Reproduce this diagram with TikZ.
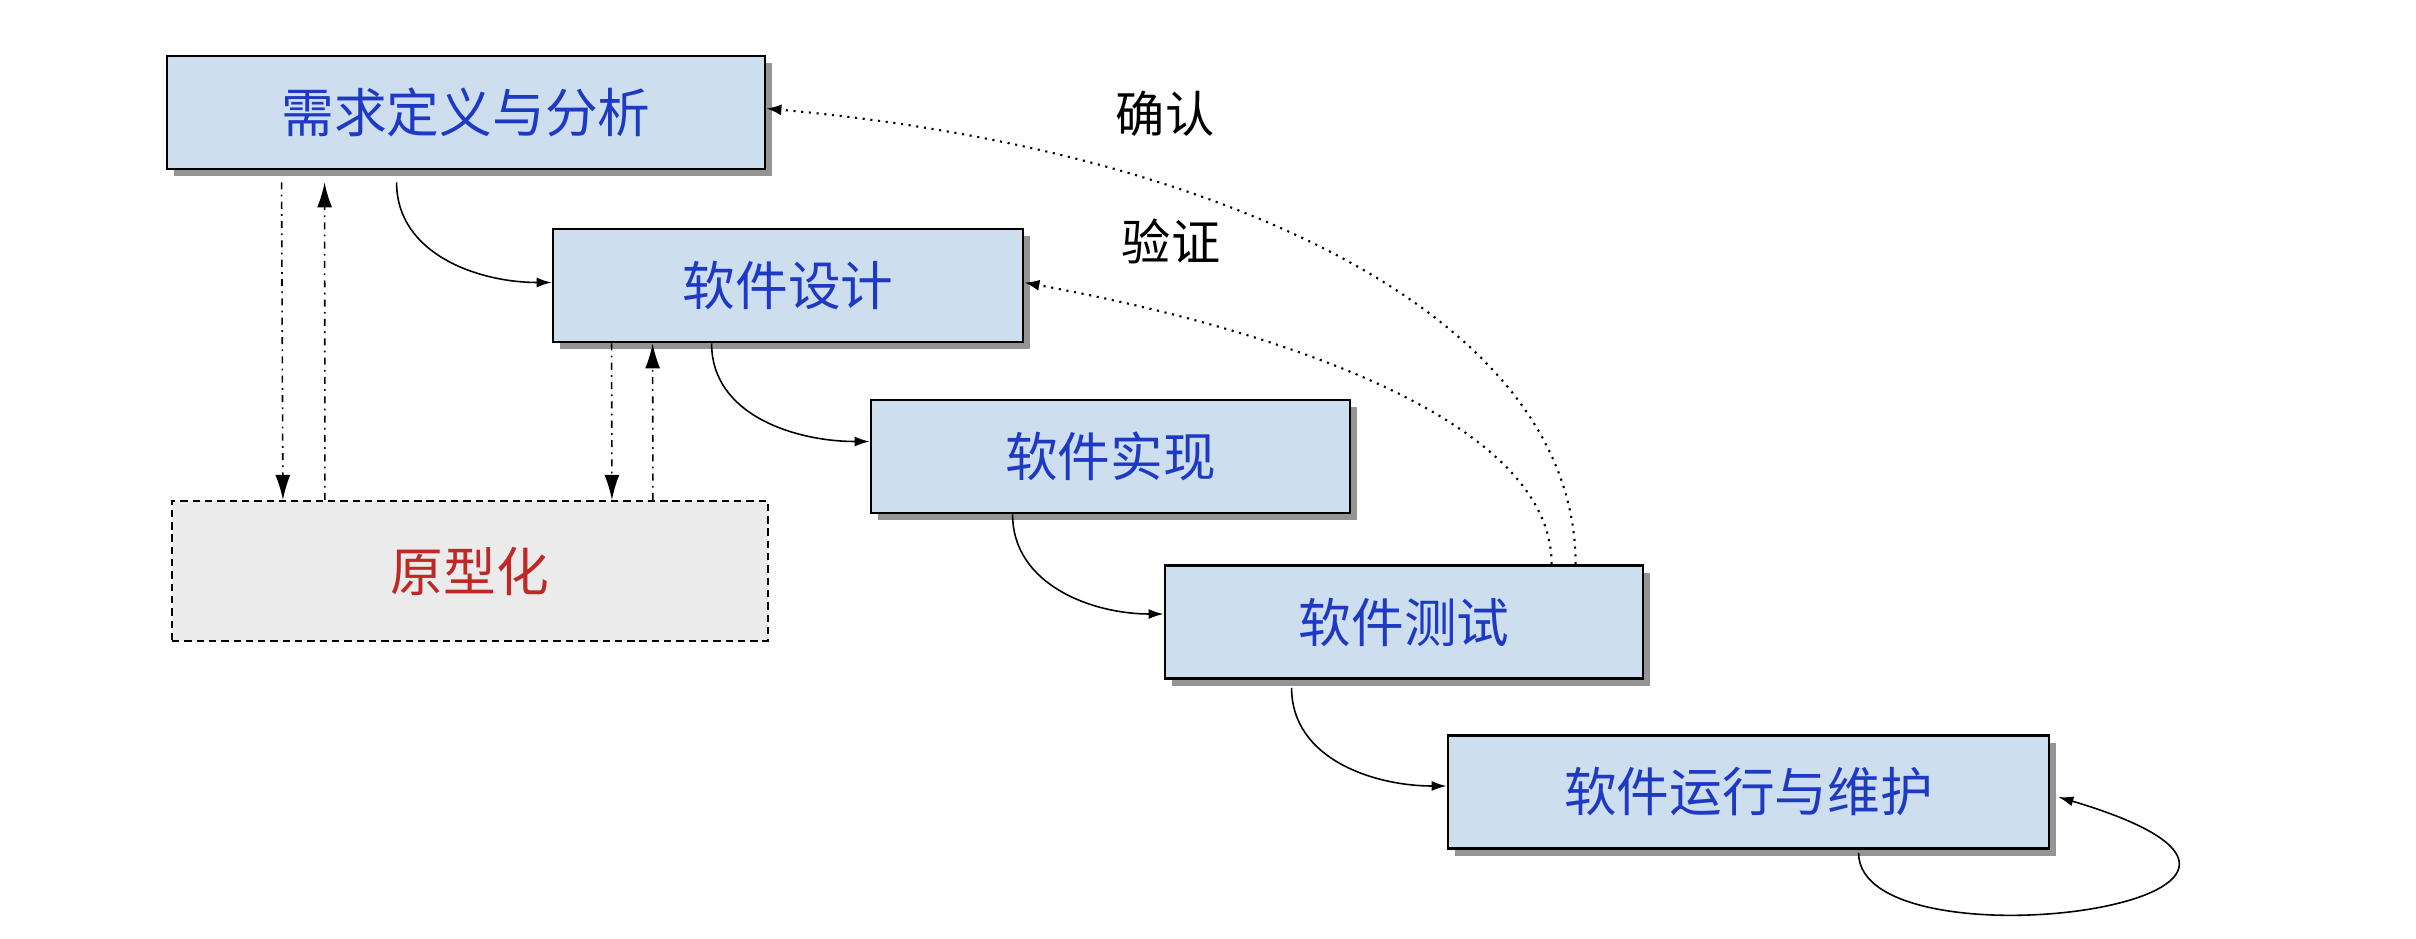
\documentclass[tikz,border=0pt]{standalone}
\usepackage{fontspec}
\newfontfamily\cjk{Noto Sans CJK SC}
\usetikzlibrary{arrows.meta,shadows}

\definecolor{phasefill}{RGB}{205,222,239}
\definecolor{phasetext}{RGB}{30,58,196}
\definecolor{protofill}{RGB}{235,235,235}
\definecolor{prototext}{RGB}{190,40,38}

\tikzset{
  phase/.style={draw=black, line width=0.8pt, fill=phasefill, text=phasetext,
    inner sep=0pt, minimum height=1.13cm, font=\cjk\fontsize{15}{18}\selectfont,
    drop shadow={shadow xshift=0.07cm, shadow yshift=-0.07cm, fill=black!42, opacity=1}},
  proto/.style={draw=black, line width=0.6pt, dash pattern=on 2.1pt off 1.4pt,
    fill=protofill, text=prototext, inner sep=0pt, minimum width=5.96cm,
    minimum height=1.40cm, font=\cjk\fontsize{15}{18}\selectfont},
  note/.style={font=\cjk\fontsize{14}{17}\selectfont},
  flow/.style={line width=0.45pt, -{Latex[length=1.5mm,width=1.0mm]}},
  iter/.style={line width=0.45pt, dash pattern=on 2pt off 1.5pt on 0.5pt off 1.5pt,
    -{Latex[length=2.5mm,width=1.5mm]}},
  check/.style={line width=0.6pt, dash pattern=on 0.6pt off 1.6pt,
    -{Latex[length=1.5mm,width=1.1mm]}},
}

\begin{document}
\begin{tikzpicture}
  \useasboundingbox (0,0) rectangle (24.16,-9.38);

  % phases
  \node[phase, minimum width=5.98cm] (req)    at (4.66,-1.125)  {需求定义与分析};
  \node[phase, minimum width=4.70cm] (design) at (7.88,-2.855)  {软件设计};
  \node[phase, minimum width=4.79cm] (impl)   at (11.105,-4.565) {软件实现};
  \node[phase, minimum width=4.78cm] (test)   at (14.04,-6.22)  {软件测试};
  \node[phase, minimum width=6.01cm] (maint)  at (17.485,-7.92) {软件运行与维护};
  \node[proto] (proto) at (4.70,-5.71) {原型化};

  \node[note] (confirm) at (11.65,-1.14) {确认};
  \node[note] (verify)  at (11.71,-2.41) {验证};

  % waterfall
  \draw[flow] ([xshift=2.31cm,yshift=-0.12cm]req.south west)
    to[out=-90,in=180] ([yshift=0.03cm]design.west);
  \draw[flow] ([xshift=1.60cm]design.south west)
    to[out=-90,in=180] ([yshift=0.15cm]impl.west);
  \draw[flow] ([xshift=1.43cm]impl.south west)
    to[out=-90,in=180] ([yshift=0.08cm]test.west);
  \draw[flow] ([xshift=1.28cm,yshift=-0.08cm]test.south west)
    to[out=-90,in=180] ([yshift=0.06cm]maint.west);
  \draw[flow] ([xshift=4.12cm,yshift=-0.03cm]maint.south west)
    .. controls +(0,-1.2) and +(3.46,-1.03) .. ([xshift=0.08cm,yshift=-0.05cm]maint.east);

  % prototyping
  \draw[iter] ([xshift=1.16cm,yshift=-0.12cm]req.south west) -- ([xshift=1.12cm]proto.north west);
  \draw[iter] ([xshift=1.54cm]proto.north west) -- ([xshift=1.59cm,yshift=-0.12cm]req.south west);
  \draw[iter] ([xshift=0.60cm]design.south west) -- ([xshift=4.41cm]proto.north west);
  \draw[iter] ([xshift=4.82cm]proto.north west) -- ([xshift=1.01cm]design.south west);

  % verification and validation
  \draw[check] ([xshift=4.12cm]test.north west)
    .. controls +(0,2.5) and +(4.5,-0.4) .. ([yshift=0.04cm]req.east);
  \draw[check] ([xshift=3.88cm]test.north west)
    .. controls +(0,1.4) and +(2.7,-0.5) .. ([yshift=0.03cm]design.east);
\end{tikzpicture}
\end{document}
